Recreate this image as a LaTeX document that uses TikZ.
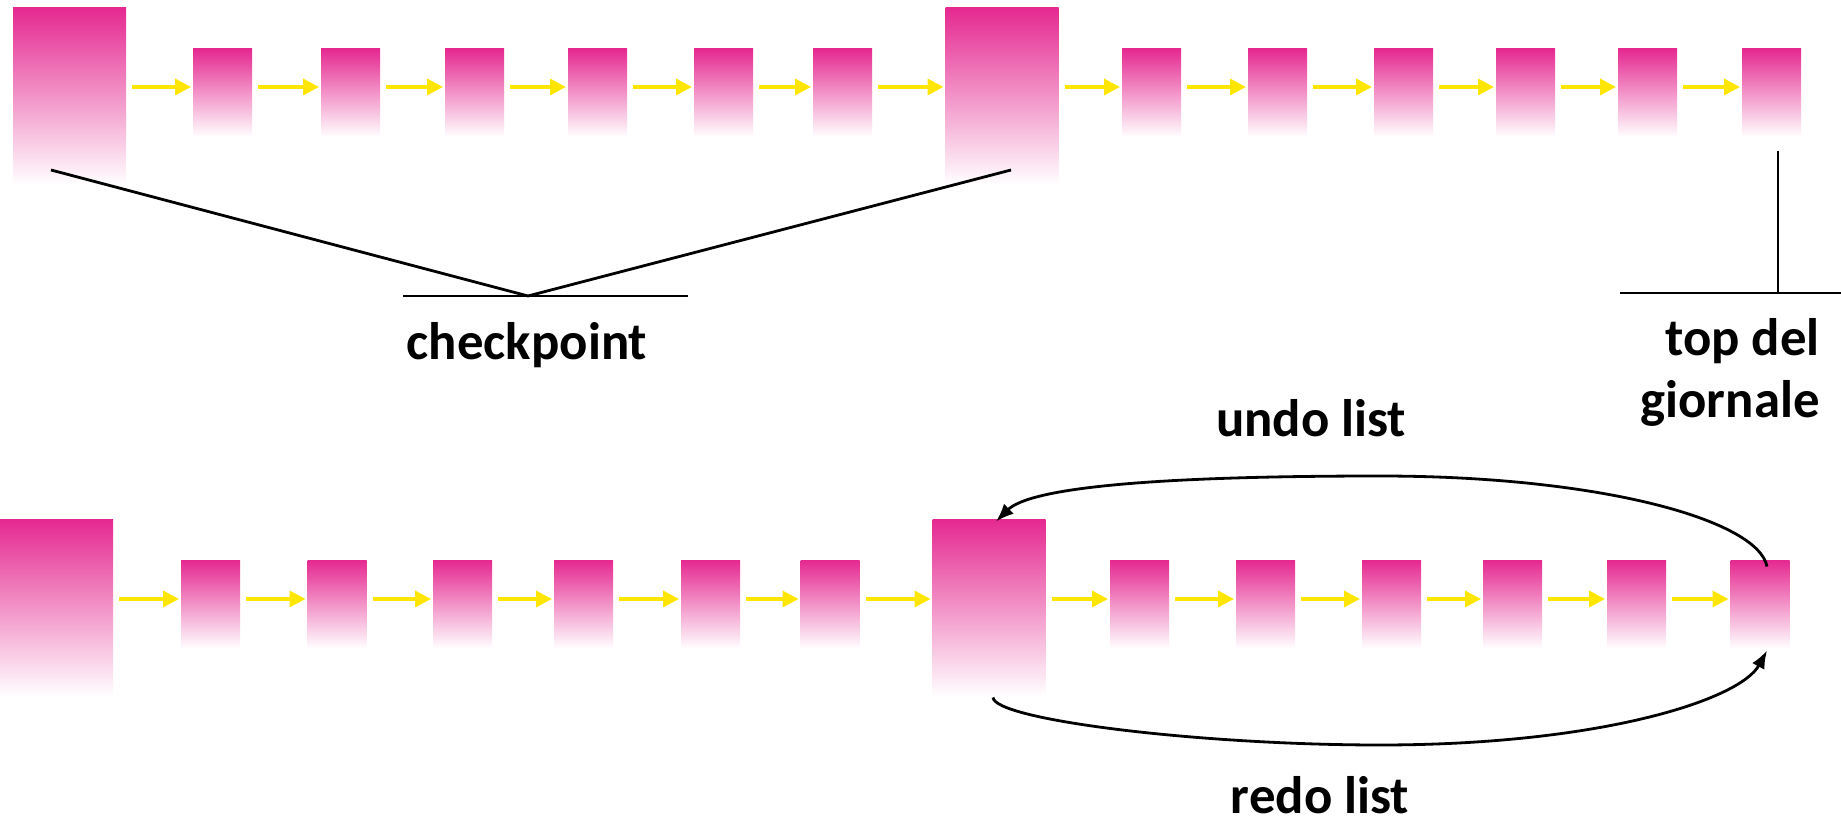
\documentclass[tikz,border=0pt]{standalone}
\usepackage{fontspec}
\setmainfont{Carlito}
\usetikzlibrary{arrows.meta}

\definecolor{logpink}{RGB}{229,41,145}
\definecolor{logyellow}{RGB}{255,230,0}

\tikzset{
  record/.style={inner sep=0pt, outer sep=0pt, draw=none,
    top color=logpink, bottom color=white, shading angle=0},
  smallrec/.style={record, minimum width=29.5pt, minimum height=44pt},
  bigrec/.style={record, minimum width=56.5pt, minimum height=88.5pt},
  nextarrow/.style={draw=logyellow, line width=1.7pt,
    -{Triangle[length=8pt,width=8pt]}, shorten <=3pt, shorten >=1pt},
  marker/.style={draw=black, line width=1.4pt},
  listarrow/.style={draw=black, line width=1.4pt, -{Latex[length=9pt,width=7pt]}},
  label/.style={font=\fontsize{26.4}{31}\selectfont\bfseries, inner sep=0pt}
}

\begin{document}
\begin{tikzpicture}[x=0.5pt, y=-0.5pt]
\useasboundingbox (0,0) rectangle (1841,817);

% ---- upper log: records between two checkpoints ----
\node[bigrec]   (T1)  at (69.5,96.5) {};
\node[smallrec] (T2)  at (222.5,93) {};
\node[smallrec] (T3)  at (350.5,93) {};
\node[smallrec] (T4)  at (474.5,93) {};
\node[smallrec] (T5)  at (597.5,93) {};
\node[smallrec] (T6)  at (723.5,93) {};
\node[smallrec] (T7)  at (842.5,93) {};
\node[bigrec]   (T8)  at (1002,96.5) {};
\node[smallrec] (T9)  at (1151.5,93) {};
\node[smallrec] (T10) at (1277.5,93) {};
\node[smallrec] (T11) at (1403.5,93) {};
\node[smallrec] (T12) at (1525.5,93) {};
\node[smallrec] (T13) at (1647.5,93) {};
\node[smallrec] (T14) at (1771.5,93) {};

\coordinate (rowT) at (0,87);
\foreach \a/\b in {T1/T2,T2/T3,T3/T4,T4/T5,T5/T6,T6/T7,T7/T8,
                   T8/T9,T9/T10,T10/T11,T11/T12,T12/T13,T13/T14}
  \draw[nextarrow] (\a.east |- rowT) -- (\b.west |- rowT);

% checkpoint marker
\coordinate (cpL) at (51,170);
\coordinate (cpR) at (1011,170);
\coordinate (cpV) at (528,296);
\coordinate (cpA) at (403,296);
\coordinate (cpB) at (688,296);
\draw[marker] (cpL) -- (cpV) -- (cpR);
\draw[marker] (cpA) -- (cpB);
\node[label, anchor=base] (checkpoint) at (527,360) {checkpoint};

% top of the log marker
\coordinate (tdJoin) at (1778,293);
\coordinate (tdA) at (1620,293);
\coordinate (tdB) at (1841,293);
\draw[marker] ([xshift=3.25pt,yshift=-7pt]T14.south) -- (tdJoin);
\draw[marker] (tdA) -- (tdB);
\node[label, anchor=base east, align=right] (topdel) at (1820,418) {top del\\giornale};

% ---- lower log: undo and redo lists ----
\node[bigrec]   (B1)  at (56.5,608) {};
\node[smallrec] (B2)  at (210.5,604.5) {};
\node[smallrec] (B3)  at (337,604.5) {};
\node[smallrec] (B4)  at (462.5,604.5) {};
\node[smallrec] (B5)  at (583.5,604.5) {};
\node[smallrec] (B6)  at (710.5,604.5) {};
\node[smallrec] (B7)  at (830,604.5) {};
\node[bigrec]   (B8)  at (989,608) {};
\node[smallrec] (B9)  at (1139.5,604.5) {};
\node[smallrec] (B10) at (1265.5,604.5) {};
\node[smallrec] (B11) at (1391.5,604.5) {};
\node[smallrec] (B12) at (1512.5,604.5) {};
\node[smallrec] (B13) at (1636.5,604.5) {};
\node[smallrec] (B14) at (1760,604.5) {};

\coordinate (rowB) at (0,599);
\foreach \a/\b in {B1/B2,B2/B3,B3/B4,B4/B5,B5/B6,B6/B7,B7/B8,
                   B8/B9,B9/B10,B10/B11,B11/B12,B12/B13,B13/B14}
  \draw[nextarrow] (\a.east |- rowB) -- (\b.west |- rowB);

% undo list: from the top of the log back to the checkpoint
\draw[listarrow] ([xshift=3.5pt,yshift=-3pt]B14.north)
  .. controls (1758,520) and (1600,476) .. (1380,476)
  .. controls (1150,476) and (1030,488) .. ([xshift=3.5pt,yshift=-1pt]B8.north);
\node[label, anchor=base] (undo) at (1311,437) {undo list};

% redo list: from the checkpoint forward to the top of the log
\draw[listarrow] ([xshift=2pt,yshift=-0.5pt]B8.south)
  .. controls (995,720) and (1200,745) .. (1380,745)
  .. controls (1600,745) and (1740,700) .. ([xshift=3.5pt,yshift=-1pt]B14.south);
\node[label, anchor=base] (redo) at (1320,813) {redo list};
\end{tikzpicture}
\end{document}
